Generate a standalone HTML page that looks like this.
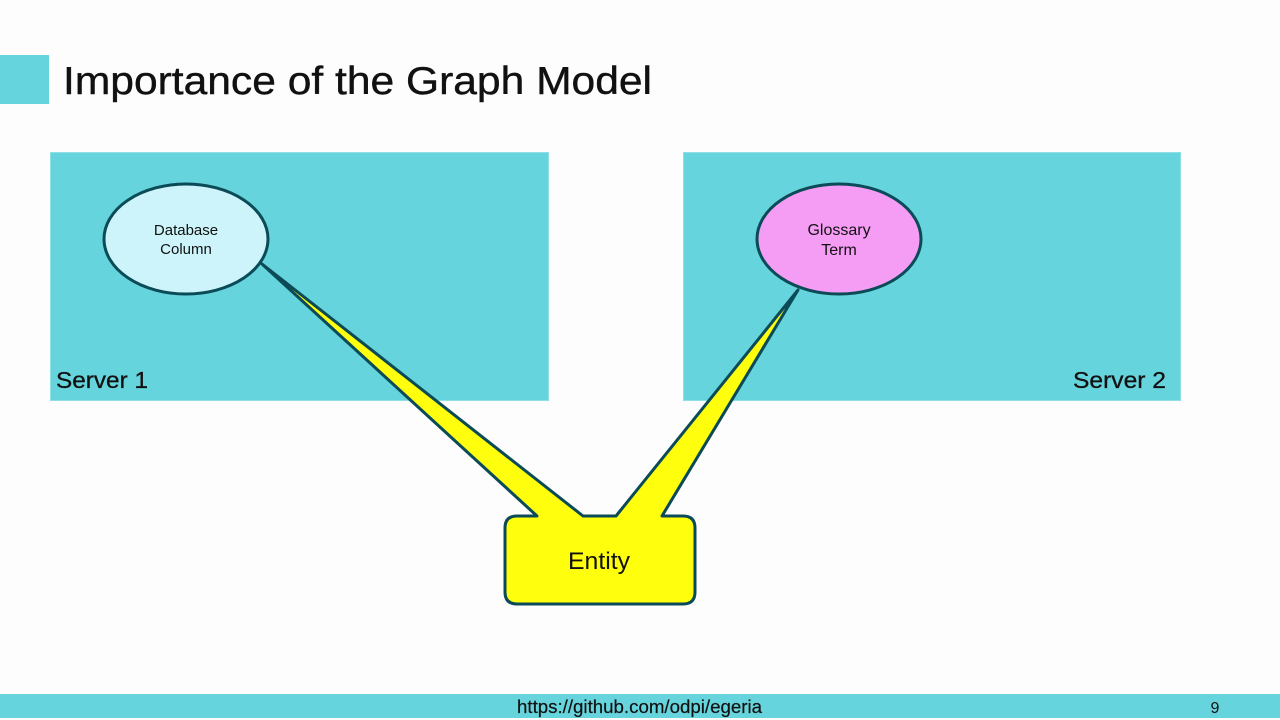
<!DOCTYPE html>
<html><head><meta charset="utf-8"><style>
html,body{margin:0;padding:0;background:#fdfdfd;}
svg{display:block;font-family:"Liberation Sans",sans-serif;}
</style></head><body>
<svg width="1280" height="720" viewBox="0 0 1280 720">
<rect width="1280" height="720" fill="#fdfdfd"/>
<rect x="0" y="55" width="49" height="49" fill="#66d4dc"/>
<text x="63" y="94" font-size="39" fill="#111" textLength="589" lengthAdjust="spacingAndGlyphs" stroke="#111" stroke-width="0.4">Importance of the Graph Model</text>
<rect x="50.5" y="152.5" width="498" height="248" fill="#66d4dc" stroke="#8fe0e6" stroke-width="1"/>
<rect x="683.5" y="152.5" width="497" height="248" fill="#66d4dc" stroke="#8fe0e6" stroke-width="1"/>
<text x="56" y="388" font-size="23" fill="#111" textLength="92" lengthAdjust="spacingAndGlyphs" stroke="#111" stroke-width="0.3">Server 1</text>
<text x="1073" y="388" font-size="23" fill="#111" textLength="93" lengthAdjust="spacingAndGlyphs" stroke="#111" stroke-width="0.3">Server 2</text>
<ellipse cx="186" cy="239" rx="82" ry="55" fill="#ccf4fa" stroke="#0b4a57" stroke-width="3"/>
<text x="186" y="235" font-size="15" text-anchor="middle" fill="#111">Database</text>
<text x="186" y="254" font-size="15" text-anchor="middle" fill="#111">Column</text>
<ellipse cx="839" cy="239" rx="82" ry="55" fill="#f59cf5" stroke="#0b4a57" stroke-width="3"/>
<text x="839" y="235" font-size="16" text-anchor="middle" fill="#111">Glossary</text>
<text x="839" y="255" font-size="16" text-anchor="middle" fill="#111">Term</text>
<path d="M517,516 L537,516 L262,264 L583,516 L616,516 L798,290 L662,516 L683,516 Q695,516 695,528 L695,592 Q695,604 683,604 L517,604 Q505,604 505,592 L505,528 Q505,516 517,516 Z" fill="#ffff0d" stroke="#0b4a57" stroke-width="3" stroke-linejoin="round"/>
<text x="568" y="569" font-size="24" fill="#111" textLength="62" lengthAdjust="spacingAndGlyphs">Entity</text>
<rect x="0" y="694" width="1280" height="24" fill="#66d4dc"/>
<text x="517" y="713" font-size="18" fill="#111" textLength="245" lengthAdjust="spacingAndGlyphs" stroke="#111" stroke-width="0.2">https://github.com/odpi/egeria</text>
<text x="1215" y="713" font-size="16" text-anchor="middle" fill="#111">9</text>
</svg>
</body></html>
